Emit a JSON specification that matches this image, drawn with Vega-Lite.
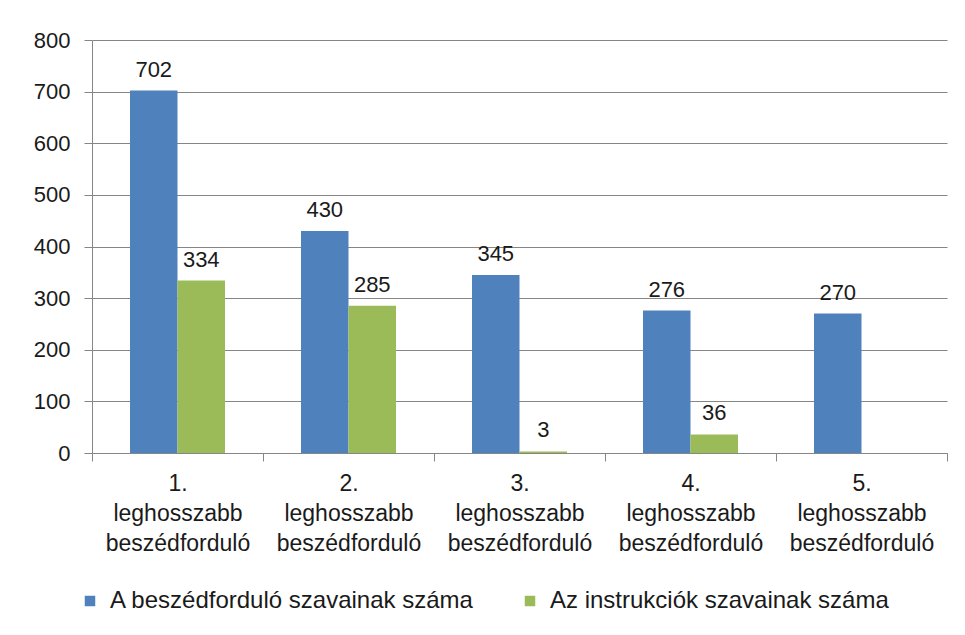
{
  "$schema": "https://vega.github.io/schema/vega-lite/v6.json",
  "width": 855,
  "height": 413,
  "autosize": "none",
  "padding": {"left": 92, "top": 40, "right": 18, "bottom": 182},
  "background": "white",
  "config": {"view": {"stroke": null}, "font": "Liberation Sans"},
  "data": {
    "values": [
      {"cat": "1.", "series": "A beszédforduló szavainak száma", "value": 702},
      {"cat": "1.", "series": "Az instrukciók szavainak száma", "value": 334},
      {"cat": "2.", "series": "A beszédforduló szavainak száma", "value": 430},
      {"cat": "2.", "series": "Az instrukciók szavainak száma", "value": 285},
      {"cat": "3.", "series": "A beszédforduló szavainak száma", "value": 345},
      {"cat": "3.", "series": "Az instrukciók szavainak száma", "value": 3},
      {"cat": "4.", "series": "A beszédforduló szavainak száma", "value": 276},
      {"cat": "4.", "series": "Az instrukciók szavainak száma", "value": 36},
      {"cat": "5.", "series": "A beszédforduló szavainak száma", "value": 270}
    ]
  },
  "encoding": {
    "x": {
      "field": "cat", "type": "nominal", "sort": null,
      "scale": {"paddingInner": 0, "paddingOuter": 0},
      "axis": {
        "title": null, "labelAngle": 0, "tickBand": "extent", "tickSize": 8,
        "labelExpr": "datum.label ? [datum.label, 'leghosszabb', 'beszédforduló'] : ''",
        "labelLineHeight": 30, "labelFontSize": 23, "labelPadding": 11,
        "labelColor": "#1a1a1a", "domainColor": "#868686", "tickColor": "#868686",
        "grid": false
      }
    },
    "xOffset": {
      "field": "series", "type": "nominal", "sort": null,
      "scale": {"domain": ["A beszédforduló szavainak száma", "Az instrukciók szavainak száma"], "paddingInner": 0, "paddingOuter": 0.8}
    },
    "y": {
      "field": "value", "type": "quantitative",
      "scale": {"domain": [0, 800], "nice": false},
      "axis": {
        "title": null, "values": [0, 100, 200, 300, 400, 500, 600, 700, 800],
        "tickSize": 8, "labelPadding": 14, "labelFontSize": 22, "labelColor": "#1a1a1a",
        "domainColor": "#868686", "tickColor": "#868686", "gridColor": "#868686", "gridOpacity": 1
      }
    }
  },
  "layer": [
    {
      "mark": {"type": "bar"},
      "encoding": {
        "color": {
          "field": "series", "type": "nominal",
          "scale": {"domain": ["A beszédforduló szavainak száma", "Az instrukciók szavainak száma"], "range": ["#4F81BD", "#9BBB59"]},
          "legend": {
            "title": null, "orient": "none", "direction": "horizontal",
            "legendX": -14, "legendY": 549,
            "symbolType": "square", "symbolSize": 110, "symbolStrokeWidth": 0,
            "labelFontSize": 24, "labelColor": "#1a1a1a", "labelOffset": 8,
            "columnPadding": 43, "labelLimit": 500
          }
        }
      }
    },
    {
      "mark": {"type": "text", "baseline": "bottom", "dy": -9, "fontSize": 22, "color": "#1a1a1a"},
      "encoding": {"text": {"field": "value", "type": "quantitative"}}
    }
  ]
}
